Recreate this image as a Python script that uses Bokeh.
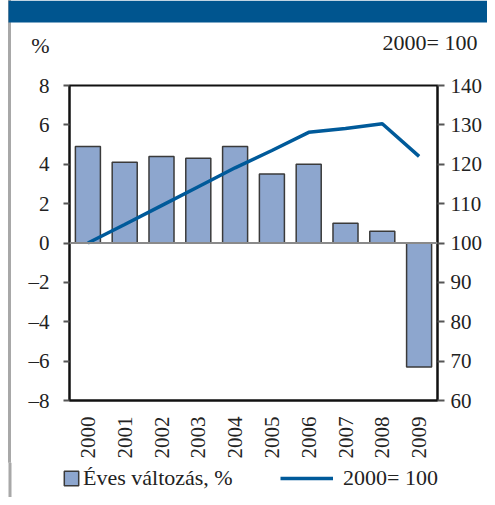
import math
from bokeh.plotting import figure
from bokeh.layouts import column
from bokeh.models import (Range1d, LinearAxis, CustomJSTickFormatter, Span, Label,
                          BoxAnnotation, Legend, LegendItem, SingleIntervalTicker, FactorRange)
from bokeh.embed import file_html
from bokeh.resources import INLINE

years = ["2000", "2001", "2002", "2003", "2004", "2005", "2006", "2007", "2008", "2009"]
annual_change = [4.9, 4.1, 4.4, 4.3, 4.9, 3.5, 4.0, 1.0, 0.6, -6.3]
index_2000 = [100.0, 104.7, 109.5, 114.3, 119.1, 123.5, 128.1, 129.1, 130.3, 122.0]

FONT = "Liberation Serif"
FS = "21px"
FS_TXT = "22px"
TXT = "#222222"
BAR_FILL = "#8DA6CE"
BAR_LINE = "#3A3A3A"
LINE_COL = "#005A9A"
STRIP = "#a8a8a8"
W = 487


def bare(fig):
    fig.grid.visible = False
    fig.outline_line_color = None
    fig.background_fill_color = None
    fig.border_fill_color = None
    return fig


# ---------- header ----------
head = bare(figure(width=W, height=70, x_range=Range1d(0, W), y_range=Range1d(70, 0),
                   output_backend="svg", toolbar_location=None, frame_align=False,
                   min_border=0, min_border_left=0, min_border_right=0,
                   min_border_top=0, min_border_bottom=0,
                   x_axis_location=None, y_axis_location=None))
head.add_layout(BoxAnnotation(left=8, right=W, top=0, bottom=22,
                              fill_color="#00558F", fill_alpha=1, line_alpha=0))
head.add_layout(Label(x=40, y=45, text="%", text_align="center", text_baseline="alphabetic",
                      text_font=FONT, text_font_size=FS_TXT, text_color=TXT))
head.add_layout(Label(x=477, y=42, text="2000= 100", text_align="right", text_baseline="alphabetic",
                      text_font=FONT, text_font_size=FS_TXT, text_color=TXT))

# ---------- main chart ----------
p = figure(x_range=FactorRange(*years, range_padding=0), y_range=Range1d(-8, 8),
           width=W, height=392, output_backend="svg", toolbar_location=None, frame_align=False,
           min_border_left=69, min_border_right=50, min_border_top=15, min_border_bottom=62,
           y_axis_location=None)
p.grid.visible = False
p.outline_line_color = "#111111"
p.outline_line_width = 2
p.background_fill_color = "white"
p.border_fill_color = None

p.extra_y_ranges = {"idx": Range1d(60, 140)}

left = LinearAxis(ticker=SingleIntervalTicker(interval=2),
                  formatter=CustomJSTickFormatter(code="return tick < 0 ? '\\u2013' + Math.abs(tick) : String(tick);"))
right = LinearAxis(y_range_name="idx", ticker=SingleIntervalTicker(interval=10))
for ax in (left, right):
    ax.axis_line_color = "#111111"
    ax.axis_line_width = 2
    ax.major_tick_line_color = "#555555"
    ax.major_tick_line_width = 2
    ax.major_tick_in = 0
    ax.minor_tick_line_color = None
    ax.major_label_text_font = FONT
    ax.major_label_text_font_size = FS
    ax.major_label_text_color = TXT
left.major_tick_out = 6
right.major_tick_out = 7
left.major_label_standoff = 14
right.major_label_standoff = 6
p.add_layout(left, "left")
p.add_layout(right, "right")

xa = p.xaxis[0]
xa.axis_line_color = "#111111"
xa.axis_line_width = 2
xa.major_tick_line_color = None
xa.major_tick_out = 0
xa.major_tick_in = 0
xa.minor_tick_line_color = None
xa.minor_tick_out = 0
xa.major_label_orientation = math.pi / 2
xa.major_label_text_font = FONT
xa.major_label_text_font_size = FS
xa.major_label_text_color = TXT
xa.major_label_standoff = 16

p.vbar(x=years, top=annual_change, bottom=0, width=0.68,
       fill_color=BAR_FILL, line_color=BAR_LINE, line_width=1.5)
p.add_layout(Span(location=0, dimension="width", line_color="#8A8A8A", line_width=2))
p.line(x=years, y=index_2000, y_range_name="idx", line_color=LINE_COL, line_width=3.5)

# ---------- legend strip: series are drawn in range, then masked; only the legend swatches show ----------
lg = bare(figure(width=W, height=35, x_range=FactorRange(*years), y_range=Range1d(-8, 8),
                 output_backend="svg", toolbar_location=None, frame_align=False,
                 min_border=0, min_border_left=0, min_border_right=0,
                 min_border_top=0, min_border_bottom=0,
                 x_axis_location=None, y_axis_location=None))
r_bar = lg.vbar(x=years, top=annual_change, bottom=0, width=0.68,
                fill_color=BAR_FILL, line_color=BAR_LINE, line_width=1.5)
r_line = lg.line(x=years, y=annual_change, line_color=LINE_COL, line_width=3.5)
lg.add_layout(BoxAnnotation(fill_color="white", fill_alpha=1, line_alpha=0))
lg.add_layout(BoxAnnotation(left=8, right=11, left_units="screen", right_units="screen",
                            fill_color=STRIP, fill_alpha=1, line_alpha=0))
common = dict(padding=0, margin=0, border_line_color=None, background_fill_alpha=0,
              label_height=18, glyph_height=18, spacing=0,
              label_text_font=FONT, label_text_font_size=FS_TXT, label_text_color=TXT)
leg1 = Legend(items=[LegendItem(label="Éves változás, %", renderers=[r_bar])],
              location=(62, 6), glyph_width=18, label_standoff=3, **common)
leg2 = Legend(items=[LegendItem(label="2000= 100", renderers=[r_line])],
              location=(280, 6), glyph_width=53, label_standoff=10, **common)
lg.add_layout(leg1)
lg.add_layout(leg2)

page = column(head, p, lg, spacing=0,
              styles={"background": "linear-gradient(to right, #ffffff 0px, #ffffff 8px, "
                                     f"{STRIP} 8px, {STRIP} 11px, #ffffff 11px)"})

open("out.html", "w").write(file_html(page, INLINE))
